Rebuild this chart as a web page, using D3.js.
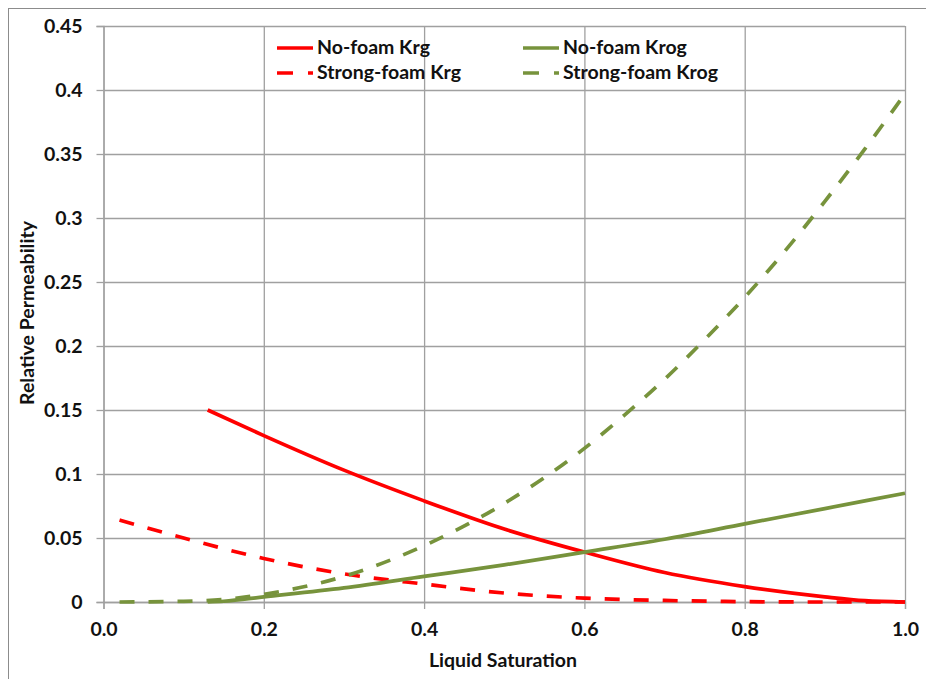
<!DOCTYPE html>
<html>
<head>
<meta charset="utf-8">
<script src="https://cdn.jsdelivr.net/npm/d3@7"></script>
<style>
  body { margin: 0; background: #fff; }
  text { font-family: Lato, "Open Sans", sans-serif; font-weight: bold; fill: #111; }
</style>
</head>
<body>
<div id="chart-area"></div>
<script>
// values
var satNoFoamKrg = [0.13, 0.2, 0.3, 0.4, 0.5, 0.6, 0.7, 0.8, 0.9, 0.95, 1.0];
var noFoamKrg    = [0.150, 0.130, 0.103, 0.079, 0.057, 0.039, 0.023, 0.012, 0.004, 0.001, 0.000];

var satStrongKrg = [0.02, 0.1, 0.2, 0.3, 0.4, 0.5, 0.6, 0.7, 0.8, 0.9, 1.0];
var strongKrg    = [0.064, 0.050, 0.034, 0.022, 0.014, 0.007, 0.003, 0.0012, 0.0003, 0.0, 0.0];

var satNoFoamKrog = [0.13, 0.15, 0.2, 0.3, 0.4, 0.5, 0.6, 0.7, 0.8, 0.9, 1.0];
var noFoamKrog    = [0.0, 0.0006, 0.004, 0.011, 0.020, 0.029, 0.039, 0.049, 0.061, 0.073, 0.085];

var satStrongKrog = [0.02, 0.1, 0.15, 0.2, 0.3, 0.4, 0.5, 0.6, 0.65, 0.7, 0.75, 0.8, 0.85, 0.9, 0.95, 1.0];
var strongKrog    = [0.0, 0.0005, 0.002, 0.006, 0.020, 0.044, 0.077, 0.120, 0.146, 0.174, 0.205, 0.238, 0.274, 0.313, 0.354, 0.397];

var xTicks = [0, 0.2, 0.4, 0.6, 0.8, 1.0];
var yTicks = [0, 0.05, 0.1, 0.15, 0.2, 0.25, 0.3, 0.35, 0.4, 0.45];

var seriesNames = ["No-foam Krg", "Strong-foam Krg", "No-foam Krog", "Strong-foam Krog"];
var red = "#ff0000", green = "#77933c";

var series = [
  {name: seriesNames[0], x: satNoFoamKrg, y: noFoamKrg, color: red, dash: null},
  {name: seriesNames[1], x: satStrongKrg, y: strongKrg, color: red, dash: "15,14"},
  {name: seriesNames[2], x: satNoFoamKrog, y: noFoamKrog, color: green, dash: null},
  {name: seriesNames[3], x: satStrongKrog, y: strongKrog, color: green, dash: "15,14"}
];

var svg = d3.select("#chart-area").append("svg")
  .attr("width", 926)
  .attr("height", 679);

// outer chart border
svg.append("rect")
  .attr("x", 8.5).attr("y", 8.5)
  .attr("width", 940).attr("height", 700)
  .attr("fill", "none").attr("stroke", "#8c8c8c").attr("stroke-width", 1);

var x = d3.scaleLinear().domain([0, 1]).range([103.5, 905]);
var y = d3.scaleLinear().domain([0, 0.45]).range([602, 26]);

// gridlines
svg.append("g")
  .attr("transform", "translate(0,602)")
  .call(d3.axisBottom(x).tickValues(xTicks).tickSize(-576).tickFormat(""))
  .call(g => g.select(".domain").remove())
  .selectAll("line").attr("stroke", "#a0a0a0").attr("stroke-width", 1.3);

svg.append("g")
  .attr("transform", "translate(103.5,0)")
  .call(d3.axisLeft(y).tickValues(yTicks).tickSize(-801.5).tickFormat(""))
  .call(g => g.select(".domain").remove())
  .selectAll("line").attr("stroke", "#a0a0a0").attr("stroke-width", 1.3);

// axes with small outside ticks
var xAxis = svg.append("g")
  .attr("transform", "translate(0,602)")
  .call(d3.axisBottom(x).tickValues(xTicks).tickSize(7).tickPadding(13).tickFormat(d3.format(".1f")));
var yAxis = svg.append("g")
  .attr("transform", "translate(103.5,0)")
  .call(d3.axisLeft(y).tickValues(yTicks).tickSize(7).tickPadding(14).tickFormat(d => d === 0 ? "0" : String(+d.toFixed(2))));

[xAxis, yAxis].forEach(g => {
  g.select(".domain").attr("stroke", "#a0a0a0").attr("stroke-width", 1.3);
  g.selectAll(".tick line").attr("stroke", "#a0a0a0").attr("stroke-width", 1.3);
  g.selectAll(".tick text")
    .attr("fill", "#111")
    .style("font-family", "Lato, sans-serif")
    .style("font-weight", "bold")
    .style("font-size", "19.5px");
});

// lines
var line = d3.line()
  .x(d => x(d[0]))
  .y(d => y(d[1]))
  .curve(d3.curveMonotoneX);

series.forEach(s => {
  var pts = s.x.map((v, i) => [v, s.y[i]]);
  svg.append("path")
    .datum(pts)
    .attr("d", line)
    .attr("fill", "none")
    .attr("stroke", s.color)
    .attr("stroke-width", 3.7)
    .attr("stroke-linejoin", "round")
    .attr("stroke-dasharray", s.dash);
});

// legend
var legendPos = [[277, 48], [277, 73], [523, 48], [523, 73]];
series.forEach((s, i) => {
  var p = legendPos[i];
  svg.append("line")
    .attr("x1", p[0]).attr("x2", p[0] + 36)
    .attr("y1", p[1]).attr("y2", p[1])
    .attr("stroke", s.color).attr("stroke-width", 3.7)
    .attr("stroke-dasharray", s.dash ? "16,15" : null);
  svg.append("text")
    .attr("x", p[0] + 40).attr("y", p[1] + 6)
    .style("font-size", "19.5px")
    .text(s.name);
});

// axis titles
svg.append("text")
  .attr("x", 503).attr("y", 667)
  .attr("text-anchor", "middle")
  .style("font-size", "19.5px")
  .text("Liquid Saturation");

svg.append("text")
  .attr("transform", "translate(34,313) rotate(-90)")
  .attr("text-anchor", "middle")
  .style("font-size", "19.5px")
  .text("Relative Permeability");
</script>
</body>
</html>
